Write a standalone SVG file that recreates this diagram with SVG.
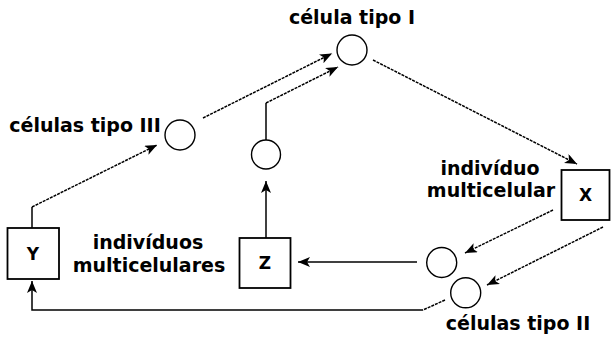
<svg xmlns="http://www.w3.org/2000/svg" width="611" height="340" viewBox="0 0 611 340">
<style>
  .lbl{font-family:"DejaVu Sans","Liberation Sans",sans-serif;font-weight:bold;font-size:19px;fill:#000;text-anchor:middle}
  .let{font-family:"DejaVu Sans","Liberation Sans",sans-serif;font-weight:bold;font-size:17px;fill:#000;text-anchor:middle}
  .box{fill:#fff;stroke:#000;stroke-width:1.8}
  .cell{fill:#fff;stroke:#000;stroke-width:1.4}
  .ln{fill:none;stroke:#000;stroke-width:1.5}
  .dg{fill:none;stroke:#000;stroke-width:1.5;stroke-dasharray:3 1}
</style>
<defs>
  <marker id="ah" markerUnits="userSpaceOnUse" markerWidth="13" markerHeight="11" refX="12" refY="5" orient="auto">
    <path d="M0,0 L12,5 L0,10 L3,5 z" fill="#000"/>
  </marker>
</defs>
<g id="connectors">
  <path class="ln" d="M32,228 L32,207"/>
  <path class="dg" d="M32,207 L157,145" marker-end="url(#ah)"/>
  <path class="dg" d="M203,118 L332,53.5" marker-end="url(#ah)"/>
  <path class="ln" d="M266,140 L266,103"/>
  <path class="dg" d="M266,103 L338,67" marker-end="url(#ah)"/>
  <path class="ln" d="M266,238 L266,181" marker-end="url(#ah)"/>
  <path class="dg" d="M373,60 L577,164" marker-end="url(#ah)"/>
  <path class="dg" d="M553,210 L465,253" marker-end="url(#ah)"/>
  <path class="dg" d="M603,227 L487,285" marker-end="url(#ah)"/>
  <path class="ln" d="M417,262 L298,262" marker-end="url(#ah)"/>
  <path class="dg" d="M445,300 L423,310"/>
  <path class="ln" d="M423,310 L32,310 L32,281" marker-end="url(#ah)"/>
</g>
<g id="celula-tipo-I">
  <circle class="cell" cx="352" cy="50" r="15"/>
  <text class="lbl" x="352" y="24">célula tipo I</text>
</g>
<g id="celulas-tipo-III">
  <circle class="cell" cx="180" cy="135" r="15"/>
  <text class="lbl" x="85" y="132">células tipo III</text>
</g>
<g id="celula-intermediaria">
  <circle class="cell" cx="266" cy="154.5" r="14.5"/>
</g>
<g id="celula-superior">
  <circle class="cell" cx="441.7" cy="262.5" r="15"/>
</g>
<g id="celulas-tipo-II">
  <circle class="cell" cx="465.7" cy="292.8" r="15"/>
  <text class="lbl" x="518" y="330">células tipo II</text>
</g>
<g id="X">
  <rect class="box" x="561.5" y="170" width="48" height="50"/>
  <text class="let" x="585.5" y="201">X</text>
  <text class="lbl" x="490" y="175">indivíduo</text>
  <text class="lbl" x="491" y="197">multicelular</text>
</g>
<g id="Y">
  <rect class="box" x="7.5" y="228" width="51.5" height="51"/>
  <text class="let" x="33" y="260">Y</text>
</g>
<g id="Z">
  <rect class="box" x="239.5" y="238" width="51" height="50"/>
  <text class="let" x="265" y="269">Z</text>
  <text class="lbl" x="148" y="249">indivíduos</text>
  <text class="lbl" x="149" y="272">multicelulares</text>
</g>
</svg>
